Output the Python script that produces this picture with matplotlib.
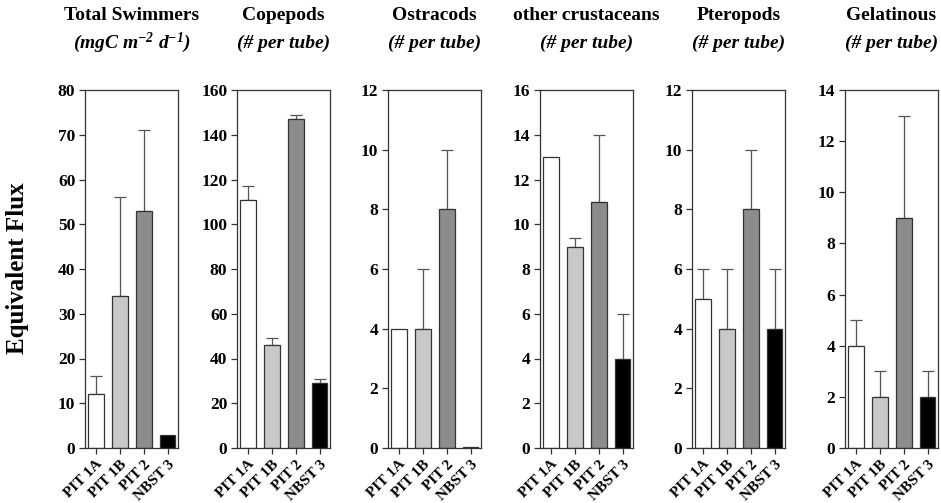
import matplotlib
matplotlib.use("Agg")
import matplotlib.pyplot as plt
import numpy as np

plt.rcParams['font.family'] = ['Liberation Serif', 'DejaVu Serif']
plt.rcParams['mathtext.fontset'] = 'custom'
plt.rcParams['mathtext.default'] = 'regular'

stations = ["PIT 1A", "PIT 1B", "PIT 2", "NBST 3"]
titles = ["Total Swimmers", "Copepods", "Ostracods", "other crustaceans", "Pteropods", "Gelatinous"]
units = [r"(mgC m$^{-2}$ d$^{-1}$)", "(# per tube)", "(# per tube)", "(# per tube)", "(# per tube)", "(# per tube)"]

swimmers = [12, 34, 53, 3]
swimmers_err = [4, 22, 18, 0]
copepods = [111, 46, 147, 29]
copepods_err = [6, 3, 2, 2]
ostracods = [4, 4, 8, 0.05]
ostracods_err = [0, 2, 2, 0]
crustaceans = [13, 9, 11, 4]
crustaceans_err = [0, 0.4, 3, 2]
pteropods = [5, 4, 8, 4]
pteropods_err = [1, 2, 2, 2]
gelatinous = [4, 2, 9, 2]
gelatinous_err = [1, 1, 4, 1]

values = [swimmers, copepods, ostracods, crustaceans, pteropods, gelatinous]
errors = [swimmers_err, copepods_err, ostracods_err, crustaceans_err, pteropods_err, gelatinous_err]
ymax = [80, 160, 12, 16, 12, 14]
ystep = [10, 20, 2, 2, 2, 2]

bar_colors = ["#ffffff", "#c8c8c8", "#8c8c8c", "#000000"]

W, H = 941, 503
fig = plt.figure(figsize=(W / 100, H / 100), dpi=100)

lefts = [85, 237, 388, 540, 692, 845]
ax_w = 93
bottom_px, top_px = 448, 90

for i in range(6):
    ax = fig.add_axes([lefts[i] / W, (H - bottom_px) / H, ax_w / W, (bottom_px - top_px) / H])
    x = np.arange(4)
    ax.bar(x, values[i], width=0.63, color=bar_colors, edgecolor="#333333", linewidth=0.9, zorder=2)
    for xi, v, e in zip(x, values[i], errors[i]):
        if e > 0:
            ax.errorbar([xi], [v], yerr=[[0], [e]], fmt='none', ecolor="#555555",
                        elinewidth=0.9, capsize=4, capthick=0.9, zorder=1)
    ax.set_xlim(-0.46, 3.42)
    ax.set_ylim(0, ymax[i])
    ticks = np.arange(0, ymax[i] + 0.001, ystep[i])
    ax.set_yticks(ticks)
    ax.set_yticklabels([f"{int(t)}" for t in ticks], fontsize=12.5, fontweight='bold')
    ax.set_xticks(x)
    ax.set_xticklabels(stations, rotation=45, ha='right', va='top', rotation_mode='anchor',
                       fontsize=11, fontweight='bold')
    ax.tick_params(direction='out', length=4, width=0.9, color="#333333", pad=3)
    ax.tick_params(axis='x', pad=3)
    for s in ax.spines.values():
        s.set_linewidth(0.9)
        s.set_color("#333333")
    cx = (lefts[i] + ax_w / 2) / W
    fig.text(cx, 1 - 16 / H, titles[i], ha='center', va='center', fontsize=14, fontweight='bold')
    fig.text(cx, 1 - 43 / H, units[i], ha='center', va='center', fontsize=14,
             fontweight='bold', fontstyle='italic')

fig.text(18 / W, 1 - 268 / H, "Equivalent Flux", rotation=90, ha='center', va='center',
         fontsize=18, fontweight='bold')

fig.savefig("out.png", dpi=100, facecolor='white')
